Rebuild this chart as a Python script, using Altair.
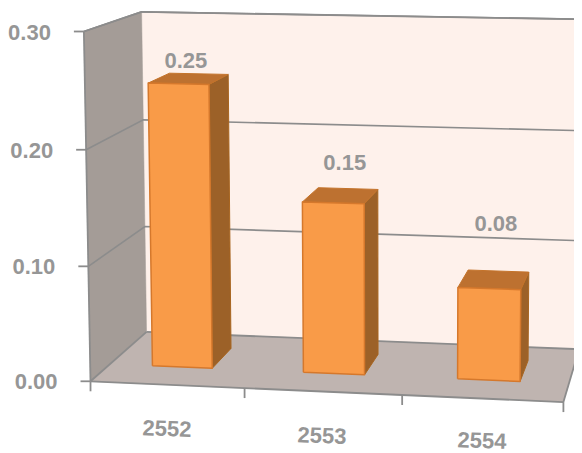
import altair as alt
import numpy as np
import pandas as pd

# ---- chart values ----
years = ["2552", "2553", "2554"]
values = [0.25, 0.15, 0.08]
value_labels = ["0.25", "0.15", "0.08"]
y_ticks = [0.0, 0.1, 0.2, 0.3]
y_tick_labels = ["0.00", "0.10", "0.20", "0.30"]

# ---- picture geometry: camera calibration (category, depth, value) -> reference pixel ----
calib_world = [
    (0, 0, 0.0), (0, 0, 0.1), (0, 0, 0.2), (0, 0, 0.3),
    (0, 1, 0.0), (0, 1, 0.1), (0, 1, 0.2), (0, 1, 0.3),
    (3, 1, 0.0), (3, 1, 0.1), (3, 1, 0.2), (3, 1, 0.3),
    (1, 0, 0.0), (2, 0, 0.0), (3, 0, 0.0),
]
calib_pixel = [
    (91, 380), (88, 266), (86, 150), (84, 31),
    (146, 332), (145, 227), (143, 120), (142, 12),
    (579, 348), (581, 241), (582, 131), (582, 19),
    (245, 389), (402, 396), (563, 402),
]
W, H = 582, 453
M = 8
BAR_X = (0.27, 0.67)
BAR_SHIFT = [0.015, 0.018, 0.02]
BAR_Z = (0.33, 0.73)
LABEL_XY_OFFSET = [(-3, -18), (4, -33), (2, -56)]
CAT_LABEL_XY = [(167, 429), (322, 436), (482, 441)]


def fit_camera():
    rows = []
    for (cx, cz, cv), (u, v) in zip(calib_world, calib_pixel):
        X = [cx, cz, cv * 10, 1]
        rows.append(X + [0, 0, 0, 0] + [-u * a for a in X])
        rows.append([0, 0, 0, 0] + X + [-v * a for a in X])
    _, _, vt = np.linalg.svd(np.array(rows, float))
    return vt[-1].reshape(3, 4)


CAM = fit_camera()


def proj(cx, cz, cv):
    p = CAM @ np.array([cx, cz, cv * 10, 1.0])
    return float(p[0] / p[2]), float(p[1] / p[2])


def polys(faces):
    rows = []
    for name, pts in faces:
        for i, (px, py) in enumerate(list(pts) + [pts[0]]):
            rows.append({"g": name, "o": i, "px": px, "py": py})
    return pd.DataFrame(rows)


def lines(segs):
    rows = []
    for i, pts in enumerate(segs):
        for j, (px, py) in enumerate(pts):
            rows.append({"g": f"l{i}", "o": j, "px": px, "py": py})
    return pd.DataFrame(rows)


x_s = alt.X("px:Q", scale=alt.Scale(domain=[M, W - M], nice=False, zero=False), axis=None)
y_s = alt.Y("py:Q", scale=alt.Scale(domain=[H, M], nice=False, zero=False), axis=None)


def poly_layer(faces, fill, stroke=None, sw=1.5):
    kw = dict(fill=fill, stroke=stroke or fill, strokeWidth=sw, strokeJoin="round", clip=True)
    return alt.Chart(polys(faces)).mark_line(**kw).encode(
        x=x_s, y=y_s, detail="g:N", order="o:Q"
    )


top = max(y_ticks)
left_wall = [("left", [proj(0, 0, 0), proj(0, 1, 0), proj(0, 1, top), proj(0, 0, top)])]
back_wall = [("back", [proj(0, 1, 0), proj(3, 1, 0), proj(3, 1, top), proj(0, 1, top)])]
floor = [("floor", [proj(0, 0, 0), proj(3, 0, 0), proj(3, 1, 0), proj(0, 1, 0)])]

grid_segs = []
for t in y_ticks[1:]:
    grid_segs.append([proj(0, 0, t), proj(0, 1, t), proj(3, 1, t)])
edge_segs = [
    [proj(0, 0, 0), proj(0, 0, top)],
    [proj(0, 0, 0), proj(3, 0, 0)],
    [proj(3, 0, 0), proj(3, 1, 0)],
    [proj(0, 0, 0), proj(0, 1, 0)],
    [proj(0, 1, 0), proj(3, 1, 0)],
]
tick_segs = []
for t in y_ticks:
    px, py = proj(0, 0, t)
    tick_segs.append([(px - 10, py), (px, py)])
for k in range(4):
    px, py = proj(k, 0, 0)
    tick_segs.append([(px, py), (px, py + 10)])

front, side, cap = [], [], []
for i, v in enumerate(values):
    x0 = i + BAR_X[0] + BAR_SHIFT[i]
    x1 = i + BAR_X[1] + BAR_SHIFT[i]
    z0, z1 = BAR_Z
    front.append((f"f{i}", [proj(x0, z0, 0), proj(x1, z0, 0), proj(x1, z0, v), proj(x0, z0, v)]))
    side.append((f"s{i}", [proj(x1, z0, 0), proj(x1, z1, 0), proj(x1, z1, v), proj(x1, z0, v)]))
    cap.append((f"c{i}", [proj(x0, z0, v), proj(x1, z0, v), proj(x1, z1, v), proj(x0, z1, v)]))

label_rows = []
for i, v in enumerate(values):
    cx = i + (BAR_X[0] + BAR_X[1]) / 2 + BAR_SHIFT[i]
    px, py = proj(cx, sum(BAR_Z) / 2, v)
    label_rows.append({"px": px + LABEL_XY_OFFSET[i][0], "py": py + LABEL_XY_OFFSET[i][1], "t": value_labels[i]})
cat_rows = [{"px": p[0], "py": p[1], "t": y} for p, y in zip(CAT_LABEL_XY, years)]
ytick_rows = []
for t, lab in zip(y_ticks, y_tick_labels):
    px, py = proj(0, 0, t)
    ytick_rows.append({"px": px - 33, "py": py + 1, "t": lab})

TXT = dict(font="Liberation Sans", fontWeight="bold", fontSize=22, color="#969696", baseline="middle")


def text_layer(rows, **kw):
    args = {**TXT, **kw}
    return alt.Chart(pd.DataFrame(rows)).mark_text(**args).encode(x=x_s, y=y_s, text="t:N")


GREY = "#8c8c8c"


def line_layer(segs, sw):
    return alt.Chart(lines(segs)).mark_line(color=GREY, strokeWidth=sw, clip=True).encode(
        x=x_s, y=y_s, detail="g:N", order="o:Q"
    )


chart = alt.layer(
    poly_layer(back_wall, "#fef1eb", sw=0.5),
    poly_layer(left_wall, "#a49c97", sw=0.5),
    poly_layer(floor, "#bfb4b0", sw=0.5),
    line_layer(grid_segs, 1.6),
    line_layer([[proj(0, 1, top), proj(3, 1, top)], [proj(0, 0, top), proj(0, 1, top)]], 1.8),
    line_layer(edge_segs, 1.8),
    line_layer(tick_segs, 1.8),
    poly_layer(side, "#9c6128", "#a8651f", 1),
    poly_layer(cap, "#bd7130", "#c4732a", 1),
    poly_layer(front, "#f99b48", "#d5782c", 1.5),
    text_layer(label_rows),
    text_layer(cat_rows, angle=2),
    text_layer(ytick_rows, align="right"),
).properties(
    width=W - 2 * M,
    height=H - M,
    padding=0,
    autosize=alt.AutoSizeParams(type="none"),
    background="white",
).configure_view(stroke=None)

chart.save("out.html", embed_options={"renderer": "svg", "actions": False})
